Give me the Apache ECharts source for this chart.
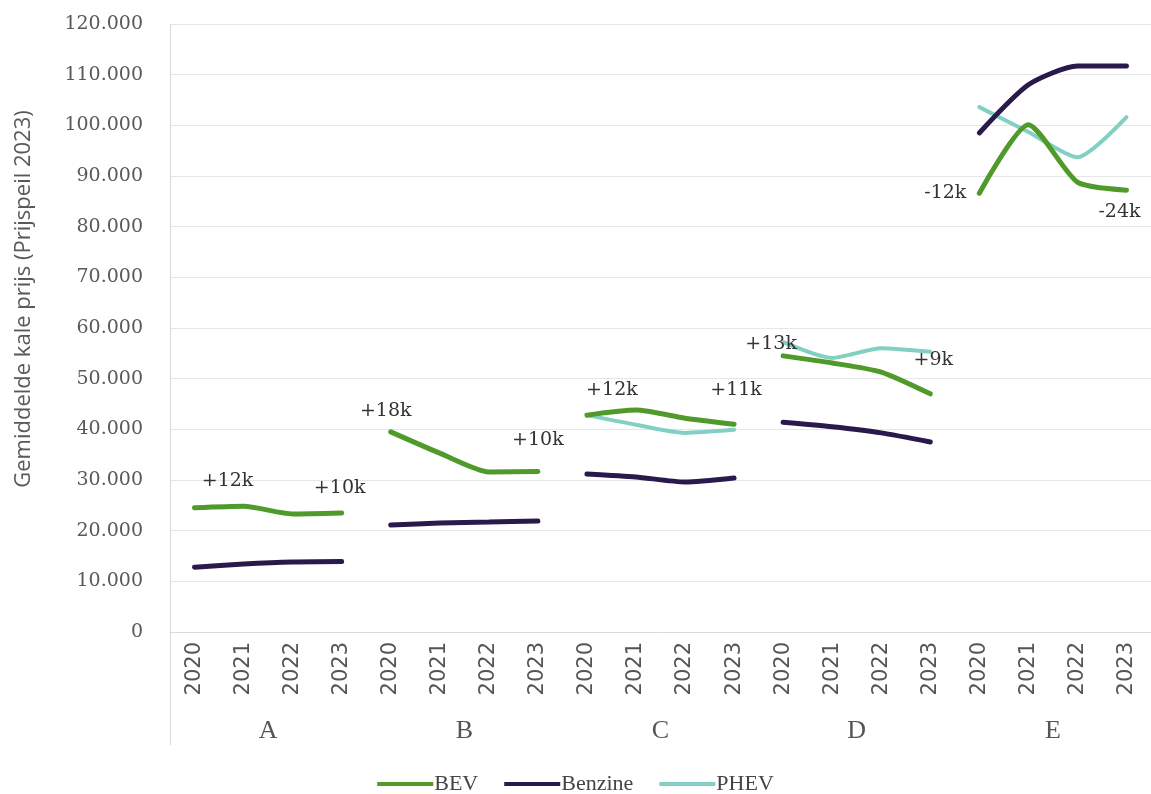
<!DOCTYPE html>
<html>
<head>
<meta charset="utf-8">
<script src="https://cdn.jsdelivr.net/npm/echarts@6/dist/echarts.min.js"></script>
<style>
  html, body { margin: 0; padding: 0; background: #fff; }
  #chart { width: 1151px; height: 794px; }
</style>
</head>
<body>
<div id="chart"></div>
<script>
const groups = ['A', 'B', 'C', 'D', 'E'];
const years = ['2020', '2021', '2022', '2023'];

const bev = [24500, 24800, 23300, 23500, 39500, 35300, 31600, 31700, 42800, 43800, 42200, 41000,
  54500, 53100, 51300, 47000, 86600, 100100, 88800, 87200];
const benzine = [12800, 13400, 13800, 13900, 21100, 21500, 21700, 21900, 31200, 30600, 29600, 30400,
  41400, 40500, 39300, 37500, 98500, 108000, 111700, 111700];
const phev = [null, null, null, null, null, null, null, null, 42800, 40900, 39300, 39900,
  57200, 54100, 56000, 55300, 103600, 98700, 93700, 101600];

// BEV minus Benzine, written next to the BEV line
const bevNotes = ['+12k', null, null, '+10k', '+18k', null, null, '+10k', '+12k', null, null, '+11k',
  '+13k', null, null, '+9k', '-12k', null, null, '-24k'];

// where each note sits relative to its point
const noteOffsets = {
  0: [33, -27], 3: [-2, -25], 4: [-5, -21], 7: [0, -31], 8: [25, -25], 11: [2, -34],
  12: [-12, -12], 15: [3, -34], 16: [-34, 0], 19: [-7, 22]
};

const categories = [];
groups.forEach(() => years.forEach(y => categories.push(y)));

const colors = { BEV: '#4f9a2b', Benzine: '#2a1a4c', PHEV: '#82d0c4' };

function groupData(values, g, notes) {
  return values.map((v, i) => {
    if (Math.floor(i / years.length) !== g || v == null) return null;
    if (notes && notes[i]) {
      return {
        value: v,
        label: {
          show: true,
          position: 'inside',
          offset: noteOffsets[i],
          formatter: notes[i],
          fontFamily: 'DejaVu Serif',
          fontSize: 19,
          color: '#333333'
        }
      };
    }
    return v;
  });
}

function makeSeries(name, values, g, notes, width) {
  return {
    name: name,
    type: 'line',
    smooth: 0.22,
    symbol: 'circle',
    symbolSize: 1,
    showSymbol: true,
    connectNulls: false,
    color: colors[name],
    itemStyle: { color: colors[name] },
    lineStyle: { width: width, color: colors[name], cap: 'round' },
    emphasis: { disabled: true },
    data: groupData(values, g, notes)
  };
}

const series = [];
groups.forEach((_, g) => {
  if (phev.some((v, i) => v != null && Math.floor(i / years.length) === g)) {
    series.push(makeSeries('PHEV', phev, g, null, 4));
  }
  series.push(makeSeries('BEV', bev, g, bevNotes, 5));
  series.push(makeSeries('Benzine', benzine, g, null, 5));
});

let chart = echarts.init(document.getElementById('chart'));
let option = {
  animation: false,
  backgroundColor: '#ffffff',
  grid: { left: 170, right: 0, top: 24, bottom: 162, outerBoundsMode: 'none' },
  legend: {
    data: ['BEV', 'Benzine', 'PHEV'],
    top: 768,
    left: 'center',
    icon: 'rect',
    itemWidth: 56,
    itemHeight: 4,
    itemGap: 26,
    textStyle: { fontFamily: 'Liberation Serif', fontSize: 22, color: '#444444', padding: [0, 0, 0, -4] }
  },
  xAxis: [
    {
      type: 'category',
      data: categories,
      axisLine: { lineStyle: { color: '#d9d9d9' } },
      axisTick: { show: false },
      axisLabel: {
        interval: 0,
        rotate: 90,
        margin: 10,
        fontFamily: 'DejaVu Sans',
        fontSize: 21,
        color: '#555555'
      },
      splitLine: { show: false }
    },
    {
      type: 'category',
      data: groups,
      position: 'bottom',
      axisLine: { show: false },
      axisTick: {
        show: true,
        length: 113,
        interval: (i) => i === 0,
        lineStyle: { color: '#d9d9d9' }
      },
      axisLabel: {
        margin: 86,
        fontFamily: 'Liberation Serif',
        fontSize: 26,
        color: '#555555'
      },
      splitLine: { show: false }
    }
  ],
  yAxis: {
    type: 'value',
    min: 0,
    max: 120000,
    interval: 10000,
    name: 'Gemiddelde kale prijs (Prijspeil 2023)',
    nameLocation: 'middle',
    nameGap: 135,
    nameTextStyle: { fontFamily: 'Open Sans', fontSize: 22, color: '#595959', padding: [0, 0, 0, 58] },
    axisLine: { show: true, lineStyle: { color: '#d9d9d9' } },
    axisTick: { show: false },
    axisLabel: {
      margin: 27,
      fontFamily: 'DejaVu Serif',
      fontSize: 19,
      color: '#595959',
      formatter: (v) => String(v).replace(/\B(?=(\d{3})+(?!\d))/g, '.')
    },
    splitLine: { lineStyle: { color: '#e6e6e6' } }
  },
  series: series
};

option && chart.setOption(option);
</script>
</body>
</html>
